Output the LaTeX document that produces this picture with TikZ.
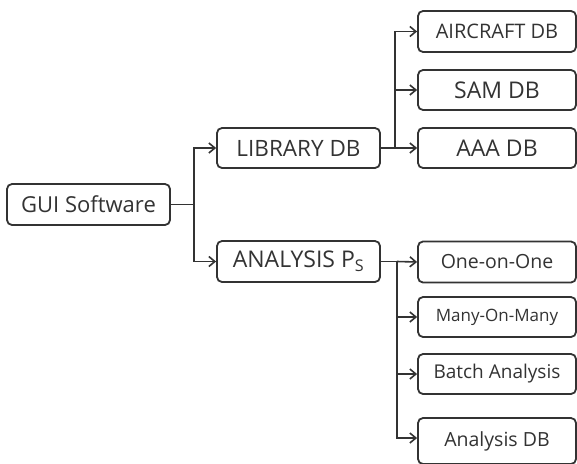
\documentclass[tikz,border=0pt]{standalone}
\usepackage{fontspec}
\setmainfont{Open Sans}
\usetikzlibrary{arrows.meta}
\definecolor{ink}{HTML}{333333}
\newcommand{\fs}[1]{\fontsize{#1}{#1}\selectfont}
\begin{document}
\begin{tikzpicture}[x=1pt,y=-1pt,
  box/.style={draw=ink, line width=1.8pt, rounded corners=5pt, text=ink,
    minimum width=163pt, minimum height=41pt, inner sep=0pt},
  leaf/.style={box, minimum width=158pt},
  conn/.style={draw=ink, line width=1.6pt},
  arr/.style={conn, -{Straight Barb[length=6pt,width=10pt,line width=1.6pt]}}]
\useasboundingbox[fill=white] (0,0) rectangle (577,463);
\node[box, font=\fs{22}] (gui) at (88.5,204.5) {GUI Software};
\node[box, minimum height=40pt, font=\fs{22.5}] (lib) at (298.5,148) {LIBRARY DB};
\node[box, font=\fs{23}] (ana) at (298.5,261.5) {ANALYSIS P\textsubscript{S}};
\node[leaf, font=\fs{20}] (air) at (497,31.5) {AIRCRAFT DB};
\node[leaf, minimum height=40pt, font=\fs{23}] (sam) at (497,90) {SAM DB};
\node[leaf, minimum height=40pt, font=\fs{23}] (aaa) at (497,148) {AAA DB};
\node[leaf, font=\fs{19.5}] (one) at (497,262) {One-on-One};
\node[leaf, minimum height=40pt, font=\fs{17}] (many) at (497,317) {Many-On-Many};
\node[leaf, minimum height=40pt, font=\fs{19}] (batch) at (497,374) {Batch Analysis};
\node[leaf, minimum height=46pt, font=\fs{19.5}] (adb) at (497,441) {Analysis DB};
\draw[conn] (gui.east) -- ++(23,0) coordinate (j1);
\draw[arr] (j1) |- (lib.west);
\draw[arr] (j1) |- (ana.west);
\draw[conn] (lib.east) -- ++(14,0) coordinate (j2);
\draw[arr] (j2) |- (air.west);
\draw[arr] (j2) |- (sam.west);
\draw[arr] (j2) -- (aaa.west);
\draw[conn] (ana.east) -- ++(16,0) coordinate (j3);
\draw[arr] (j3) -- (one.west);
\draw[arr] (j3) |- (many.west);
\draw[arr] (j3) |- (batch.west);
\draw[arr] (j3) |- ([yshift=3pt]adb.west);
\end{tikzpicture}
\end{document}
